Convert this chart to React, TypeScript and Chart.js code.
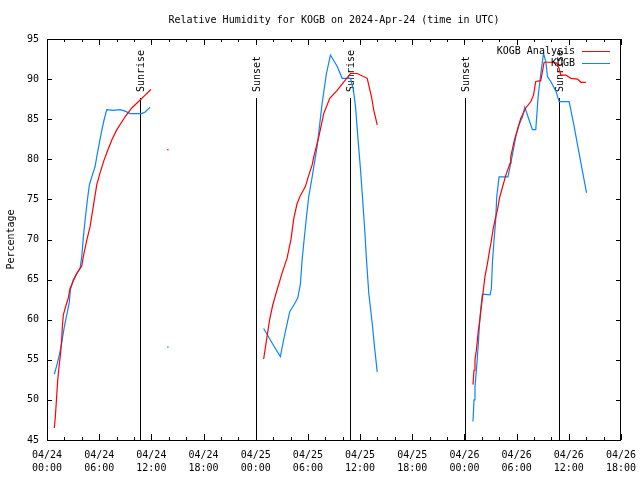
import React, { useEffect, useRef } from "react";
import { Chart, registerables } from "chart.js";

Chart.register(...registerables);

const titleText = "Relative Humidity for KOGB on 2024-Apr-24 (time in UTC)";
const yTitle = "Percentage";
const dateLabels = ["04/24", "04/25", "04/26", "04/27"];
const seriesNames = ["KOGB Analysis", "KOGB"];
const seriesColors = ["#ff0000", "#0a84ff"];

// hours since 04/24 00:00 UTC
const analysisTimes = [
  0.84, 0.96, 1.12, 1.23, 1.38, 1.58, 1.69, 1.76, 1.88, 2.19, 2.45, 2.65, 3.42, 4.0, 4.18, 4.57, 4.95, 5.26, 5.72, 6.1,
  6.56, 6.94, 7.45, 8.03, 8.98, 9.75, 10.71, 11.29, 11.94,
  18,
  24.91, 25.3, 25.6, 25.95, 26.45, 27.03, 27.61, 28.07, 28.37, 28.76, 29.14, 29.71, 30.09, 30.49, 30.67, 31.25, 31.82,
  32.51, 33.36, 34.32, 34.9, 35.67, 36.82, 37.31, 37.58, 37.97,
  43,
  48.98, 49.1, 49.21, 49.37, 49.49, 49.6, 49.75, 49.87, 50.13, 50.36, 50.64, 50.9, 51.1, 51.28, 51.51, 51.79, 52.06,
  52.29, 52.75, 53.24, 53.32, 53.7, 54.09, 54.47, 55.05, 55.63, 55.94, 56.2, 56.78, 57.16, 57.93, 58.62, 58.89, 59.08,
  59.66, 60.23, 61.0, 61.39, 61.96,
];
const analysisRH = [
  46.5, 47.9, 50.6, 52.4, 54.1, 56.0, 57.5, 59.1, 60.6, 61.8, 62.7, 63.9, 65.8, 66.7, 67.9, 69.9, 71.6, 73.7, 76.8, 78.3,
  79.9, 81.0, 82.4, 83.7, 85.3, 86.4, 87.4, 88.0, 88.7,
  null,
  55.1, 57.9, 60.0, 61.8, 63.7, 65.8, 67.7, 70.1, 72.6, 74.5, 75.5, 76.6, 78.0, 79.3, 80.3, 82.8, 85.7,
  87.6, 88.6, 89.9, 90.7, 90.7, 90.1, 87.8, 86.1, 84.3,
  null,
  51.9, 53.7, 55.0, 56.2, 57.5, 58.7, 59.8, 61.0, 63.3, 65.4, 67.0, 68.7, 69.9, 71.2, 72.4, 73.7, 75.3,
  76.2, 78.0, 79.5, 80.3, 82.2, 83.7, 85.1, 86.4, 87.2, 88.0, 89.7, 89.8, 92.1, 92.1, 92.0, 91.3, 90.5,
  90.5, 90.1, 90.0, 89.6, 89.6,
];

const obsTimes = [
  0.84, 1.15, 1.42, 1.69, 1.99, 2.27, 2.57, 2.7, 3.03, 3.8, 4.0, 4.18, 4.38, 4.64, 4.87, 5.15, 5.53, 5.72, 6.22, 6.56,
  6.87, 7.64, 8.41, 8.98, 9.56, 10.9, 11.29, 11.86,
  18,
  24.91, 25.88, 26.83, 27.21, 27.61, 27.91, 28.37, 28.83, 29.14, 29.33, 29.52, 29.83, 30.09, 30.49, 31.06, 31.64, 32.13,
  32.59, 33.36, 33.94, 34.9, 35.21, 35.47, 35.74, 36.05, 36.24, 36.51, 36.74, 37.0, 37.4, 37.66, 37.97,
  43,
  48.98, 49.1, 49.21, 49.37, 49.49, 49.6, 49.75, 49.94, 50.06, 50.94, 51.1, 51.21, 51.4, 51.59, 51.71, 51.98, 53.01,
  53.13, 53.32, 53.63, 53.9, 54.28, 54.67, 54.94, 55.43, 55.82, 56.2, 56.47, 56.78, 57.09, 57.35, 57.55, 57.93, 58.51,
  58.89, 60.04, 60.61, 61.19, 61.69, 62.04,
];
const obsRH = [
  53.2, 54.4, 55.6, 57.1, 59.1, 60.6, 62.2, 63.8, 65.0, 66.4, 67.9, 70.3, 72.4, 74.9, 76.8, 77.8, 79.1, 80.3, 83.2, 84.9,
  86.2, 86.1, 86.2, 86.0, 85.7, 85.7, 85.9, 86.5,
  null,
  58.9, 57.1, 55.4, 57.5, 59.5, 61.0, 61.8, 62.7, 64.5, 67.4, 69.5, 72.8, 75.3, 77.8, 81.6, 87.0, 90.7,
  93.0, 91.6, 90.1, 90.1, 88.8, 86.6, 82.8, 78.7, 75.8, 71.6, 67.4, 63.3, 59.5, 56.6, 53.5,
  null,
  47.3, 50.0, 51.6, 53.7, 55.4, 57.1, 59.8, 62.0, 63.2, 63.1, 63.9, 67.0, 69.9, 72.4, 75.3, 77.8, 77.8,
  78.5, 79.5, 81.2, 82.8, 84.3, 85.3, 86.5, 84.9, 83.7, 83.7, 87.8, 90.7, 93.2, 92.2, 90.3, 89.7, 88.5,
  87.2, 87.2, 84.1, 80.7, 77.8, 75.8,
];

// isolated single readings
const analysisDotTimes = [13.9];
const analysisDotRH = [81.2];
const obsDotTimes = [13.9];
const obsDotRH = [56.6];

const sunTimes = [10.7, 24.0, 34.8, 48.07, 58.9];
const sunLabels = ["Sunrise", "Sunset", "Sunrise", "Sunset", "Sunrise"];

const X_MIN = 0;
const X_MAX = 66;
const Y_MIN = 45;
const Y_MAX = 95;
const FONT = "DejaVu Sans Mono";

const toPts = (t: number[], v: (number | null)[]) => t.map((x, i) => ({ x, y: v[i] }));

const decorPlugin = {
  id: "decor",
  beforeDatasetsDraw(chart: any) {
    const { ctx, chartArea, scales } = chart;
    const xs = scales.x;
    ctx.save();
    ctx.font = `10px "${FONT}"`;
    ctx.fillStyle = "#000";
    ctx.strokeStyle = "#000";
    ctx.lineWidth = 1;
    sunTimes.forEach((t, i) => {
      const px = Math.round(xs.getPixelForValue(t)) + 0.5;
      ctx.beginPath();
      ctx.moveTo(px, 98);
      ctx.lineTo(px, chartArea.bottom);
      ctx.stroke();
      ctx.save();
      ctx.translate(px + 1, 92);
      ctx.rotate(-Math.PI / 2);
      ctx.textAlign = "left";
      ctx.textBaseline = "middle";
      ctx.fillText(sunLabels[i], 0, 0);
      ctx.restore();
    });
    ctx.restore();
  },
  afterDatasetsDraw(chart: any) {
    const { ctx, chartArea, scales } = chart;
    const { left, right, top, bottom } = chartArea;
    const xs = scales.x;
    const ys = scales.y;
    ctx.save();
    ctx.strokeStyle = "#000";
    ctx.lineWidth = 1;
    ctx.strokeRect(left + 0.5, top + 0.5, right - left - 1, bottom - top);
    ctx.beginPath();
    for (let h = X_MIN; h <= X_MAX; h += 2) {
      const px = Math.round(xs.getPixelForValue(h)) + 0.5;
      const len = h % 6 === 0 ? 6 : 3;
      ctx.moveTo(px, bottom);
      ctx.lineTo(px, bottom - len);
      ctx.moveTo(px, top);
      ctx.lineTo(px, top + len);
    }
    for (let v = Y_MIN; v <= Y_MAX; v += 5) {
      const py = Math.round(ys.getPixelForValue(v)) + 0.5;
      ctx.moveTo(left, py);
      ctx.lineTo(left + 5, py);
      ctx.moveTo(right, py);
      ctx.lineTo(right - 5, py);
    }
    ctx.stroke();

    // legend
    ctx.font = `10px "${FONT}"`;
    ctx.textAlign = "right";
    ctx.textBaseline = "middle";
    seriesNames.forEach((name, i) => {
      const y = 51 + i * 12;
      ctx.fillStyle = "#000";
      ctx.fillText(name, 575, y);
      ctx.strokeStyle = seriesColors[i];
      ctx.beginPath();
      ctx.moveTo(582, Math.round(y) + 0.5);
      ctx.lineTo(610, Math.round(y) + 0.5);
      ctx.stroke();
    });

    // title
    ctx.fillStyle = "#000";
    ctx.textAlign = "center";
    ctx.fillText(titleText, (left + right) / 2, 20);

    // y title
    ctx.save();
    ctx.translate(11, (top + bottom) / 2);
    ctx.rotate(-Math.PI / 2);
    ctx.textAlign = "center";
    ctx.textBaseline = "middle";
    ctx.fillText(yTitle, 0, 0);
    ctx.restore();
    ctx.restore();
  },
};

export default function App() {
  const ref = useRef<HTMLCanvasElement | null>(null);
  useEffect(() => {
    document.body.style.margin = "0";
    if (!ref.current) return;
    Chart.defaults.color = "#000";
    const chart = new Chart(ref.current, {
      type: "line",
      data: {
        datasets: [
          {
            label: seriesNames[0],
            data: toPts(analysisTimes, analysisRH),
            borderColor: seriesColors[0],
            borderWidth: 1.2,
            pointRadius: 0,
            spanGaps: false,
            tension: 0,
          },
          {
            label: seriesNames[1],
            data: toPts(obsTimes, obsRH),
            borderColor: seriesColors[1],
            borderWidth: 1.2,
            pointRadius: 0,
            spanGaps: false,
            tension: 0,
          },
          {
            label: "dotA",
            data: toPts(analysisDotTimes, analysisDotRH),
            showLine: false,
            pointRadius: 0.8,
            pointBorderWidth: 0,
            backgroundColor: seriesColors[0],
            borderColor: seriesColors[0],
          },
          {
            label: "dotB",
            data: toPts(obsDotTimes, obsDotRH),
            showLine: false,
            pointRadius: 0.8,
            pointBorderWidth: 0,
            backgroundColor: seriesColors[1],
            borderColor: seriesColors[1],
          },
        ],
      },
      options: {
        animation: false,
        responsive: false,
        devicePixelRatio: 1,
        layout: { padding: { top: 39, right: 19, left: 0, bottom: 0 } },
        plugins: { legend: { display: false }, title: { display: false }, tooltip: { enabled: false } },
        events: [],
        scales: {
          x: {
            type: "linear",
            min: X_MIN,
            max: X_MAX,
            grid: { display: false, drawTicks: false },
            border: { display: false },
            afterFit: (s: any) => {
              s.height = 40;
              s.paddingLeft = 0;
              s.paddingRight = 0;
            },
            afterBuildTicks: (s: any) => {
              const t = [];
              for (let h = X_MIN; h <= X_MAX; h += 6) t.push({ value: h });
              s.ticks = t;
            },
            ticks: {
              autoSkip: false,
              maxRotation: 0,
              padding: 9,
              font: { family: FONT, size: 10, lineHeight: 1.3 },
              color: "#000",
              callback: (v: any) => {
                const h = Number(v);
                const d = Math.floor(h / 24);
                const hh = h - d * 24;
                return [dateLabels[d], `${String(hh).padStart(2, "0")}:00`];
              },
            },
          },
          y: {
            type: "linear",
            min: Y_MIN,
            max: Y_MAX,
            grid: { display: false, drawTicks: false },
            border: { display: false },
            afterFit: (s: any) => {
              s.width = 47;
              s.paddingTop = 0;
              s.paddingBottom = 0;
            },
            ticks: {
              stepSize: 5,
              padding: 8,
              font: { family: FONT, size: 10 },
              color: "#000",
            },
          },
        },
      },
      plugins: [decorPlugin],
    });
    return () => chart.destroy();
  }, []);
  return (
    <div style={{ position: "absolute", left: 0, top: 0, width: 640, height: 480, background: "#fff" }}>
      <canvas ref={ref} width={640} height={480} />
    </div>
  );
}
